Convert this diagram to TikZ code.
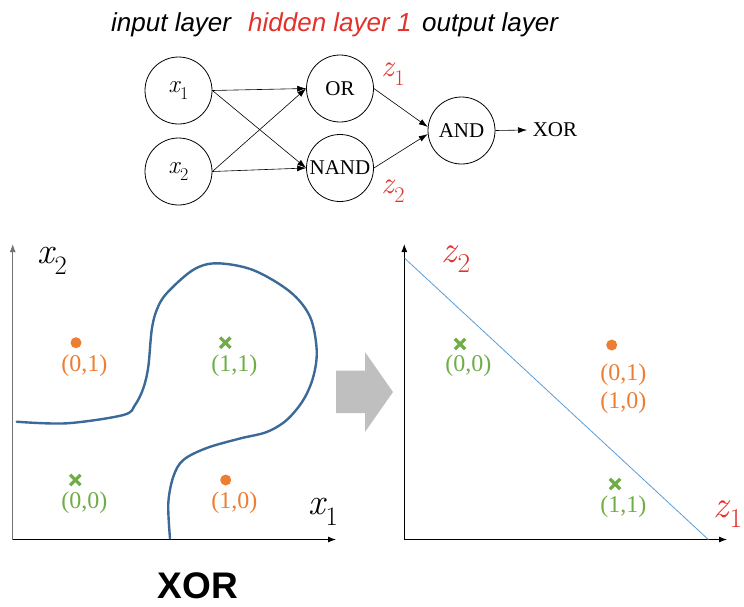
\documentclass[tikz,border=0pt]{standalone}
\usepackage{fontspec}
\usetikzlibrary{arrows.meta}
\newfontfamily\arialf{Liberation Sans}
\newfontfamily\serf{Liberation Serif}
% italic variable with a lowered, reduced subscript; scales with the font size
\newcommand\ivar[2]{{\itshape #1}\kern0.02em\raisebox{-0.28em}{\scalebox{0.72}{#2}}}
\definecolor{hred}{HTML}{E3312B}
\definecolor{porange}{HTML}{ED7D31}
\definecolor{pgreen}{HTML}{70AD47}
\definecolor{cblue}{HTML}{3C6A98}
\definecolor{lblue}{HTML}{5B9BD5}
\definecolor{agray}{HTML}{BFBFBF}
\tikzset{
  neuron/.style={draw, circle, line width=0.8pt, minimum size=67pt, inner sep=0pt,
                 font=\serf\fontsize{21}{25}\selectfont},
  conn/.style={line width=0.6pt, -{Latex[length=9pt,width=6pt]}},
  axis/.style={line width=1pt, -{Latex[length=8pt,width=6pt]}},
  title/.style={anchor=base west, inner sep=0pt, font=\arialf\itshape\fontsize{26}{30}\selectfont},
  zlbl/.style={text=hred, inner sep=0pt, font=\fontsize{31}{35}\selectfont},
  biglbl/.style={inner sep=0pt, font=\fontsize{37}{42}\selectfont},
  ptlbl/.style={inner sep=0pt, font=\serf\fontsize{24}{28}\selectfont},
  odot/.style={circle, fill=porange, minimum size=11pt, inner sep=0pt},
  xmark/.style={pgreen, line width=3.2pt},
}
\begin{document}
\begin{tikzpicture}[x=1pt,y=-1pt]
\useasboundingbox (0,0) rectangle (744,606);

% layer captions
\node[title] (tin)  at (111,31) {input layer};
\node[title, text=hred] (thid) at (248,31) {hidden layer 1};
\node[title] (tout) at (422,31) {output layer};

% network
\node[neuron, font=\fontsize{25}{29}\selectfont] (x1) at (178.5,90.5) {\ivar{x}{1}};
\node[neuron, font=\fontsize{25}{29}\selectfont] (x2) at (178.5,171.5) {\ivar{x}{2}};
\node[neuron] (or)   at (340,88.5) {OR};
\node[neuron] (nand) at (340,168) {NAND};
\node[neuron] (and)  at (461.5,130.5) {AND};
\node[inner sep=0pt, font=\serf\fontsize{21}{25}\selectfont] (xor) at (555,130) {XOR};
\coordinate (xortip) at (527,130);
\node[zlbl] (z1) at (393,74) {\ivar{z}{1}};
\node[zlbl] (z2) at (393,191) {\ivar{z}{2}};

\draw[conn] (x1.east) -- (or.west);
\draw[conn] (x1.east) -- (nand.west);
\draw[conn] (x2.east) -- (or.west);
\draw[conn] (x2.east) -- (nand.west);
\draw[conn] (or.east) -- (and.174);
\draw[conn] (nand.east) -- (and.186);
\draw[conn] (and.east) -- (xortip);

% left plot: input space
\coordinate (lo) at (12.7,539.5);
\coordinate (ly) at (12.7,244);
\coordinate (lx) at (336,539.5);
\draw[axis, draw=black!55, fill=black] (lo) -- (ly);
\draw[axis] (lo) -- (lx);
\node[biglbl] (lx2) at (52,261) {\ivar{x}{2}};
\node[biglbl] (lx1) at (323,512) {\ivar{x}{1}};

\draw[cblue, line width=2.4pt, line cap=round] plot[smooth, tension=0.55] coordinates {
  (16.7,421.7) (66.7,423.3) (123.3,415) (135,405) (143.3,388.3) (148.3,366.7)
  (151.7,330) (156.7,310) (166.7,293.3) (193,270) (216.7,263.3) (253,270)
  (290,291.7) (310,316.7) (316.7,350) (313.3,376.7) (303.3,400) (286.7,420)
  (266.7,432) (240,438.5) (206.7,448) (183.3,460) (173.3,476.7) (168.3,503.3)
  (170,538.3)};

\node[odot] (p01) at (76,342.7) {};
\node[ptlbl, text=porange] (l01) at (84.3,366) {(0,1)};
\node[inner sep=0pt, minimum size=10pt] (p11) at (225.3,342.7) {};
\draw[xmark] (p11.north west) -- (p11.south east) (p11.north east) -- (p11.south west);
\node[ptlbl, text=pgreen] (l11) at (234.3,366) {(1,1)};
\node[inner sep=0pt, minimum size=10pt] (p00) at (75.3,480) {};
\draw[xmark] (p00.north west) -- (p00.south east) (p00.north east) -- (p00.south west);
\node[ptlbl, text=pgreen] (l00) at (84.3,502.5) {(0,0)};
\node[odot] (p10) at (225.7,480) {};
\node[ptlbl, text=porange] (l10) at (234.3,502.5) {(1,0)};

\node[inner sep=0pt, font=\arialf\bfseries\fontsize{37}{42}\selectfont] (cap) at (198,585.5) {XOR};

% transformation arrow
\fill[agray] (336,370.5) -- (365,370.5) -- (365,352) -- (393,392) -- (365,432)
  -- (365,413) -- (336,413) -- cycle;

% right plot: hidden space
\coordinate (ro) at (404.3,539.5);
\coordinate (ry) at (404.3,244);
\coordinate (rx) at (727,539.5);
\draw[axis] (ro) -- (ry);
\draw[axis] (ro) -- (rx);
\coordinate (sepa) at (404.7,258.3);
\coordinate (sepb) at (708.3,539.5);
\draw[lblue, line width=0.8pt] (sepa) -- (sepb);
\node[zlbl, font=\fontsize{38}{42}\selectfont] (rz2) at (456,259) {\ivar{z}{2}};
\node[zlbl, font=\fontsize{38}{42}\selectfont] (rz1) at (728,514) {\ivar{z}{1}};

\node[inner sep=0pt, minimum size=10pt] (q00) at (460,344) {};
\draw[xmark] (q00.north west) -- (q00.south east) (q00.north east) -- (q00.south west);
\node[ptlbl, text=pgreen] (m00) at (468.3,366) {(0,0)};
\node[odot] (q01) at (611.7,345) {};
\node[ptlbl, text=porange] (m01) at (623.3,375) {(0,1)};
\node[ptlbl, text=porange] (m10) at (623.3,403) {(1,0)};
\node[inner sep=0pt, minimum size=10pt] (q11) at (615,484) {};
\draw[xmark] (q11.north west) -- (q11.south east) (q11.north east) -- (q11.south west);
\node[ptlbl, text=pgreen] (m11) at (623.3,507) {(1,1)};
\end{tikzpicture}
\end{document}
